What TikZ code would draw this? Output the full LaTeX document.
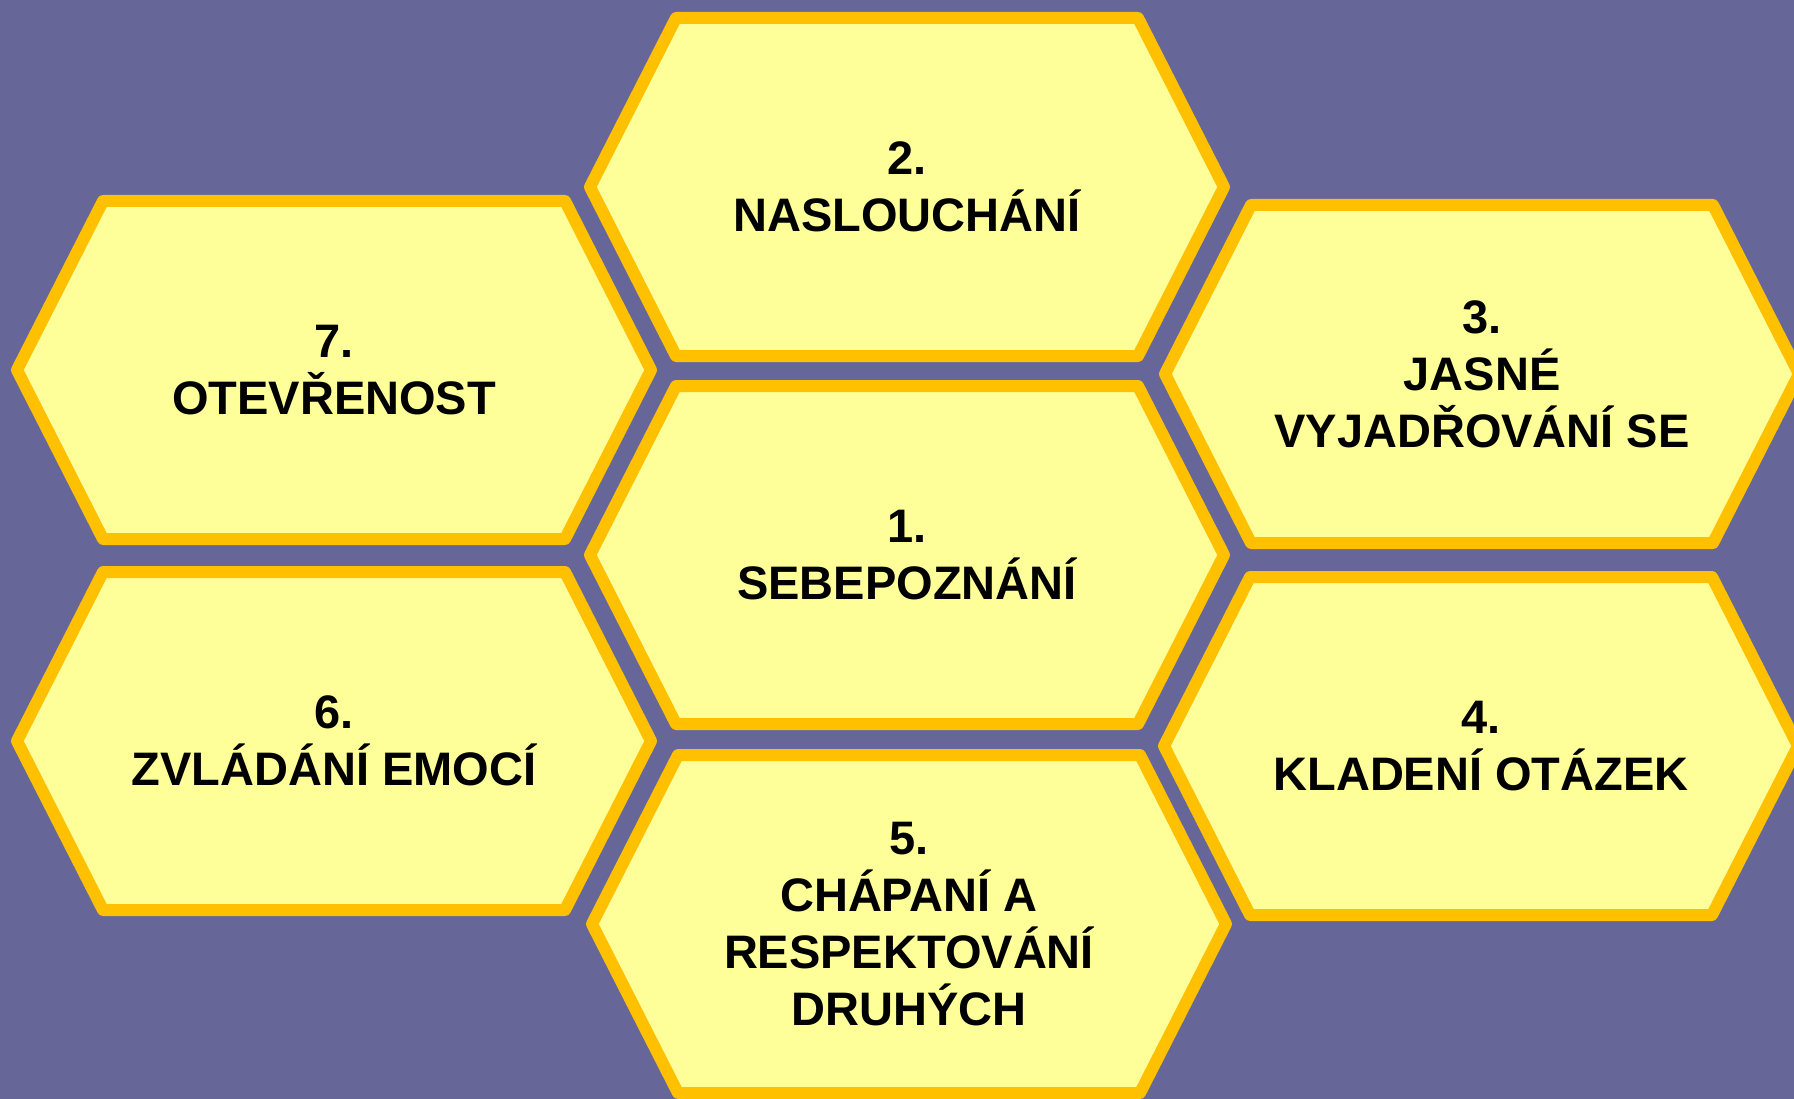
\documentclass[tikz,border=0pt]{standalone}
\usepackage{fontspec}
\setmainfont{Liberation Sans}
\usetikzlibrary{positioning}
\definecolor{slate}{HTML}{666699}
\definecolor{cellfill}{HTML}{FFFF99}
\definecolor{cellrim}{HTML}{FFC000}
\tikzset{
  every node/.style={font=\bfseries\fontsize{47}{57}\selectfont,text=black},
  cell/.style={draw=cellrim,fill=cellfill,line width=12pt,line join=round},
  celltext/.style={align=center,inner sep=0}
}
% one honeycomb cell: name, x, y, text
\newcommand{\honeycell}[4]{%
  \draw[cell,shift={(#2,#3)}] (-317,0) -- ++(86,-169) -- ++(462,0) -- ++(86,169)
    -- ++(-86,169) -- ++(-462,0) -- cycle;
  \node[celltext] (#1) at (#2,#3) {#4};
}

\begin{document}
\begin{tikzpicture}[x=1pt,y=-1pt]
\clip (0,0) rectangle (1794,1099);
\fill[slate] (0,0) rectangle (1794,1099);
\honeycell{selfknow}{907}{555}{1.\\SEBEPOZNÁNÍ}
\honeycell{listen}{907}{187}{2.\\NASLOUCHÁNÍ}
\honeycell{express}{1482}{374}{3.\\JASNÉ\\VYJADŘOVÁNÍ SE}
\honeycell{asking}{1481}{746}{4.\\KLADENÍ OTÁZEK}
\honeycell{respect}{909}{924}{5.\\CHÁPANÍ A\\RESPEKTOVÁNÍ\\DRUHÝCH}
\honeycell{emotion}{334}{741}{6.\\ZVLÁDÁNÍ EMOCÍ}
\honeycell{open}{334}{370}{7.\\OTEVŘENOST}
\end{tikzpicture}
\end{document}
